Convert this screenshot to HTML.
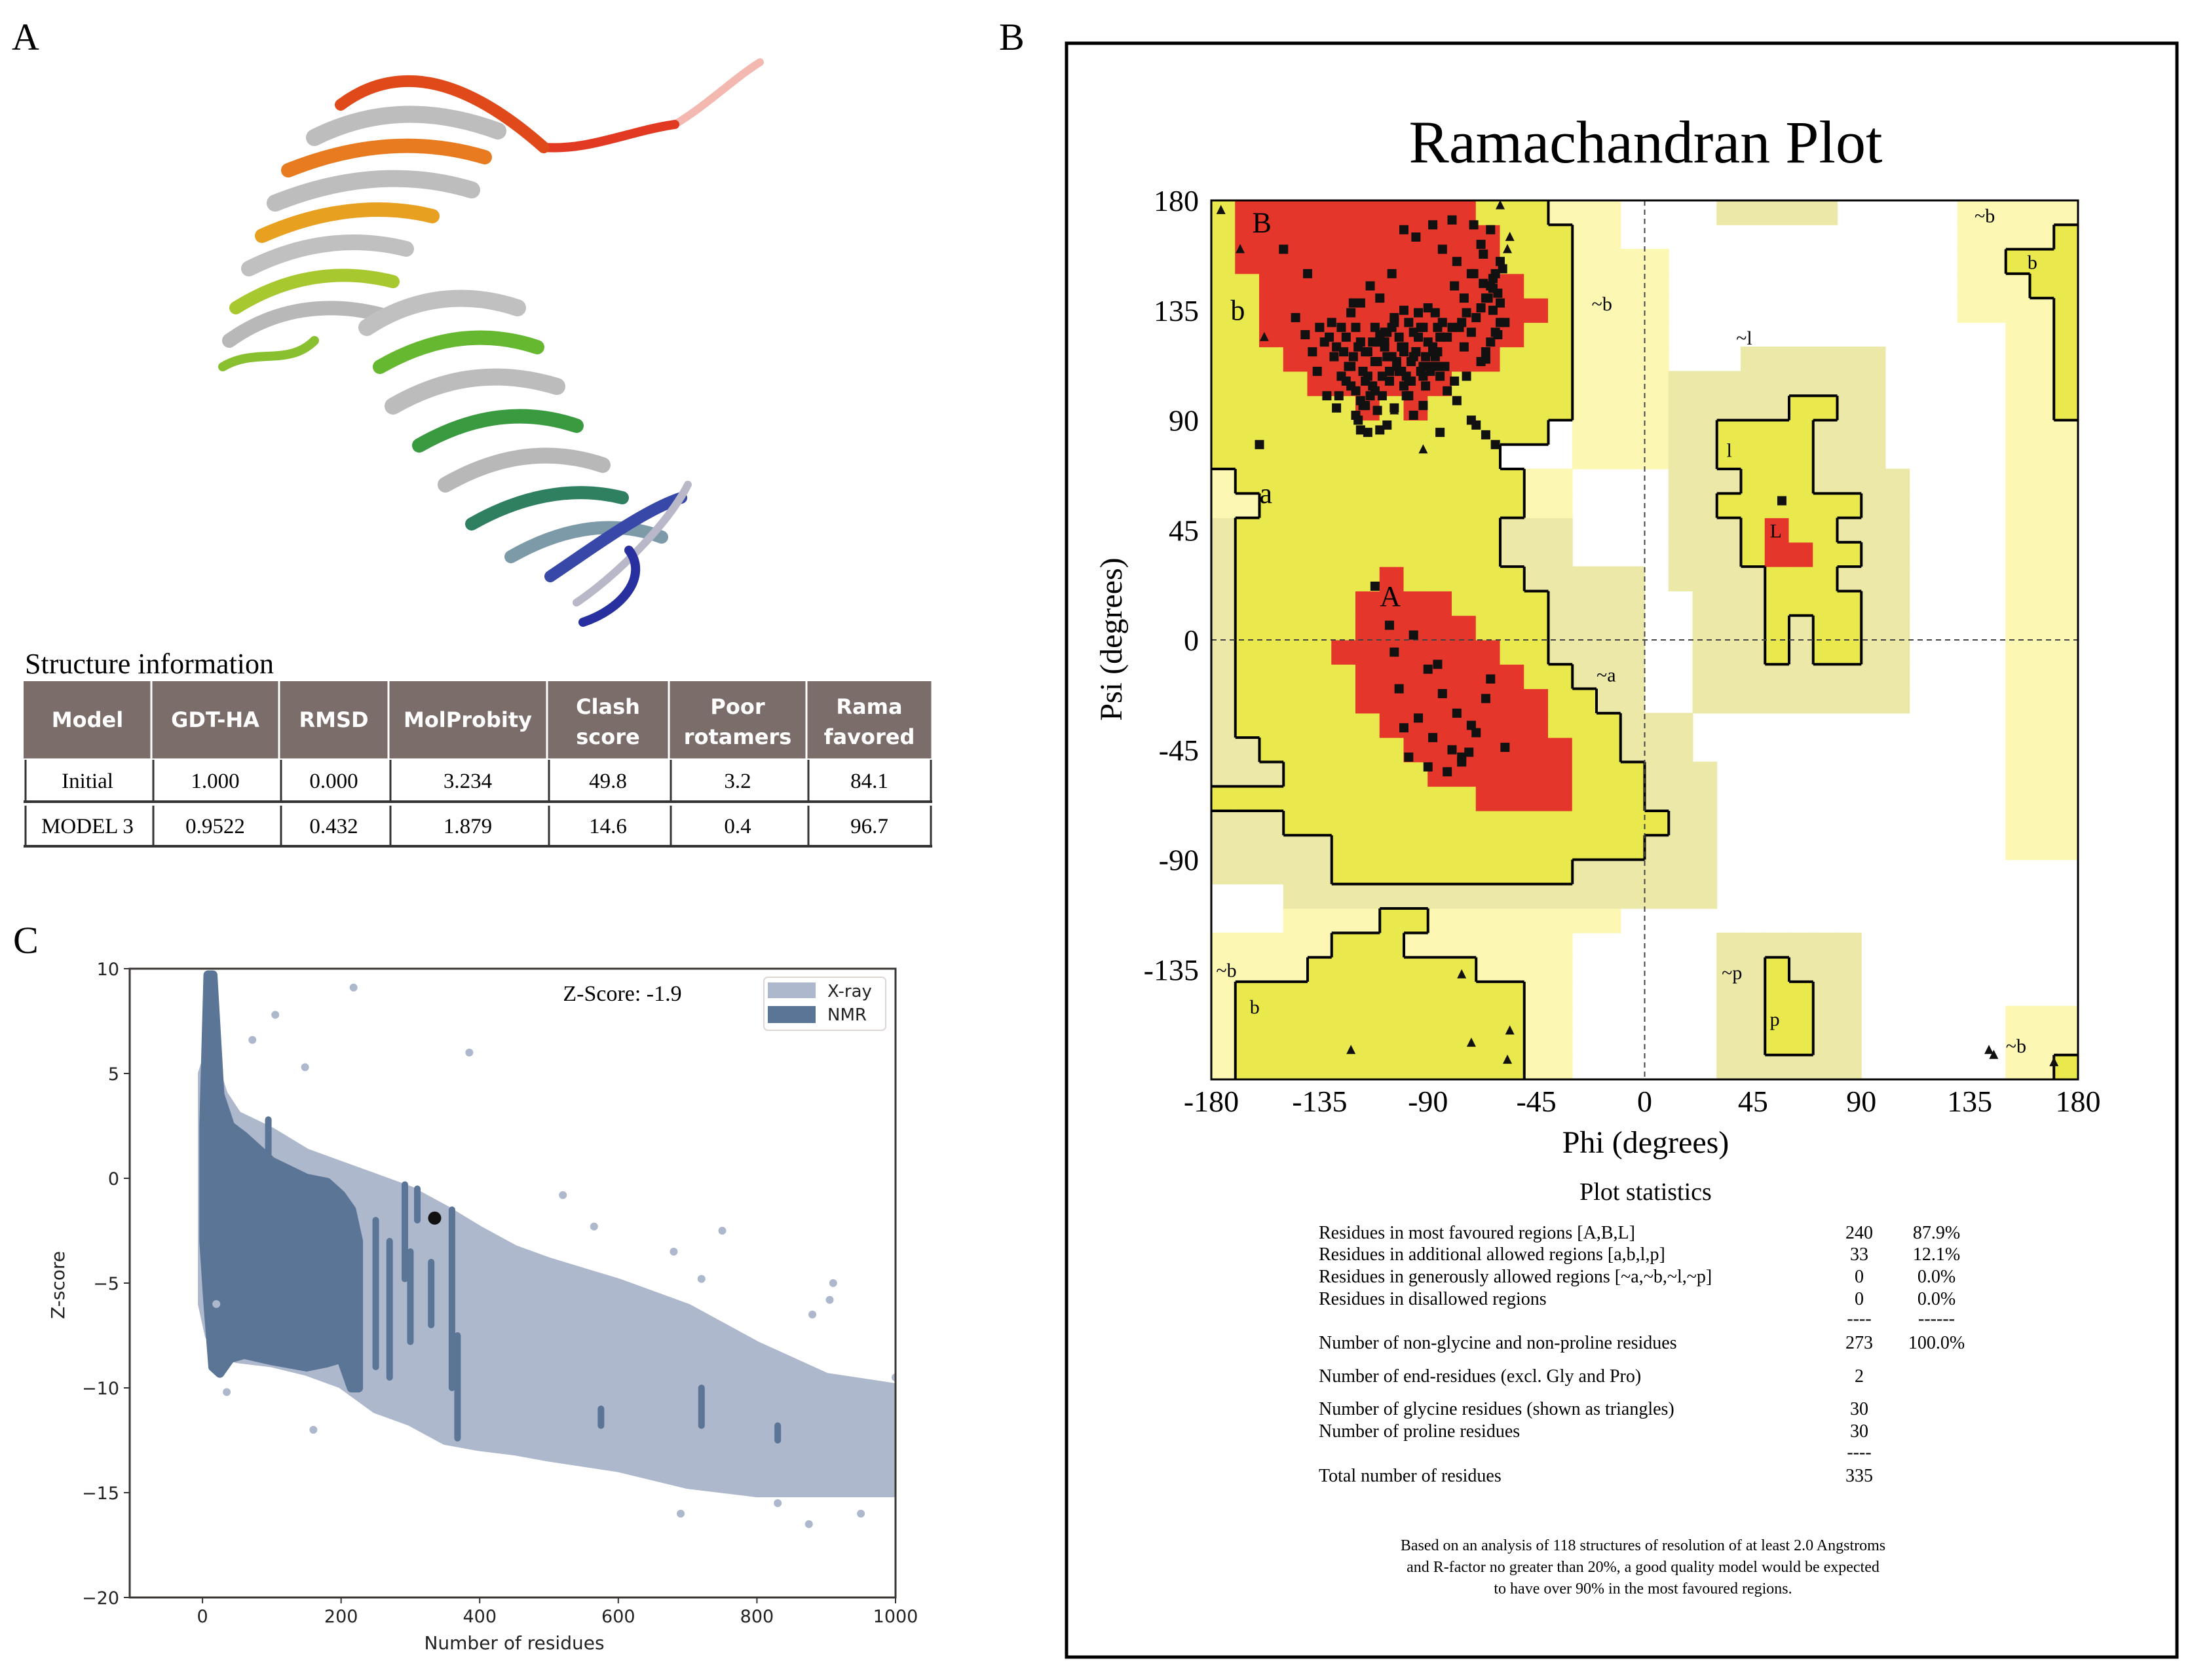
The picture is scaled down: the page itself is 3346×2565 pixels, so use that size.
<!DOCTYPE html>
<html><head><meta charset="utf-8"><style>
html,body{margin:0;padding:0;background:#fff}
svg{display:block}
.serif{font-family:"Liberation Serif",serif}
.sans{font-family:"DejaVu Sans","Liberation Sans",sans-serif}
</style></head><body>
<svg id="fig" width="3346" height="2565" viewBox="0 0 3346 2565" xmlns="http://www.w3.org/2000/svg">
<rect width="3346" height="2565" fill="#fff"/>
<text x="18" y="76" class="serif" font-size="58">A</text>
<text x="1525" y="76" class="serif" font-size="58">B</text>
<text x="20" y="1455" class="serif" font-size="58">C</text>

<g id="protein" fill="none" stroke-linecap="round" stroke-linejoin="round">
<path d="M1030 190 C1080 160,1120 120,1160 95" stroke="#f3b8b0" stroke-width="12"/>
<path d="M830 225 C900 230,960 200,1030 190" stroke="#e23a22" stroke-width="14"/>
<path d="M520 160 C600 100,700 110,830 225" stroke="#e04a1a" stroke-width="18"/>
<path d="M480 210 C560 170,650 160,760 200" stroke="#bdbdbd" stroke-width="26"/>
<path d="M440 260 C540 220,640 210,740 240" stroke="#e87a20" stroke-width="22"/>
<path d="M420 310 C520 270,620 260,720 290" stroke="#bdbdbd" stroke-width="26"/>
<path d="M400 360 C490 320,580 310,660 330" stroke="#e8a020" stroke-width="22"/>
<path d="M380 410 C460 370,540 360,620 380" stroke="#c0c0c0" stroke-width="24"/>
<path d="M360 470 C440 420,520 410,600 430" stroke="#a8c830" stroke-width="20"/>
<path d="M350 520 C420 470,500 460,580 480" stroke="#b8b8b8" stroke-width="22"/>
<path d="M340 560 C390 530,440 560,480 520" stroke="#88c030" stroke-width="14"/>
<path d="M560 500 C620 460,700 440,790 470" stroke="#c0c0c0" stroke-width="26"/>
<path d="M580 560 C650 520,730 500,820 530" stroke="#66b830" stroke-width="22"/>
<path d="M600 620 C670 580,750 560,850 590" stroke="#bcbcbc" stroke-width="26"/>
<path d="M640 680 C710 640,790 620,880 650" stroke="#3a9a40" stroke-width="22"/>
<path d="M680 740 C750 700,830 680,920 710" stroke="#b8b8b8" stroke-width="24"/>
<path d="M720 800 C790 760,870 740,950 760" stroke="#2f8060" stroke-width="20"/>
<path d="M780 850 C850 810,930 790,1010 820" stroke="#7d9aa8" stroke-width="20"/>
<path d="M840 880 C900 840,980 780,1040 760" stroke="#3848a8" stroke-width="18"/>
<path d="M880 920 C940 880,1020 800,1050 740" stroke="#b8b8c8" stroke-width="12"/>
<path d="M890 950 C950 930,990 880,960 840" stroke="#2830a0" stroke-width="14"/>
</g>

<g id="table"></g>
<g id="rama"></g>
<g id="zplot"></g>
</svg>
<script>
const NS='http://www.w3.org/2000/svg';
function mk(tag,attrs,parent,txt){const e=document.createElementNS(NS,tag);for(const k in attrs)e.setAttribute(k,attrs[k]);if(txt!==undefined)e.textContent=txt;parent.appendChild(e);return e;}

/* ---------- Table ---------- */
const tableHeaders=[["Model"],["GDT-HA"],["RMSD"],["MolProbity"],["Clash","score"],["Poor","rotamers"],["Rama","favored"]];
const tableRowInitial=["Initial","1.000","0.000","3.234","49.8","3.2","84.1"];
const tableRowModel3=["MODEL 3","0.9522","0.432","1.879","14.6","0.4","96.7"];
(function(){
const g=document.getElementById('table');
const cols=[36,231,426,593,835,1021,1231,1423];
const t=mk('text',{x:38,y:1028,'class':'serif','font-size':44},g,'Structure information');

const hdr=mk('rect',{x:36,y:1040,width:1387,height:118,fill:'#7b6e6a'},g);

for(let i=0;i<7;i++){
 const cx=(cols[i]+cols[i+1])/2;
 mk('line',{x1:cols[i+1],y1:1040,x2:cols[i+1],y2:1158,stroke:'#fff','stroke-width':3},g);
 const h=tableHeaders[i];
 h.forEach((s,j)=>{const y=h.length===1?1110:1090+j*46;
  const tx=mk('text',{x:cx,y:y,'text-anchor':'middle','class':'sans','font-size':32,'font-weight':'bold',fill:'#fff'},g,s);
  });
}
[[tableRowInitial,1160,1224],[tableRowModel3,1230,1292]].forEach(([row,y0,y1])=>{
 for(let i=0;i<7;i++){
  mk('line',{x1:cols[i]+3,y1:y0,x2:cols[i]+3,y2:y1,stroke:'#333','stroke-width':3},g);
  const tx=mk('text',{x:(cols[i]+cols[i+1])/2,y:(y0+y1)/2+11,'text-anchor':'middle','class':'serif','font-size':33},g,row[i]);
  
 }
 mk('line',{x1:cols[7]-2,y1:y0,x2:cols[7]-2,y2:y1,stroke:'#333','stroke-width':3},g);
 mk('line',{x1:36,y1:y1,x2:1423,y2:y1,stroke:'#333','stroke-width':4},g);
});
})();

/* ---------- Ramachandran ---------- */
const paleRegions=[[1,-180,-30,-180,-120],[1,-150,-10,-120,-110],[1,-30,10,70,160],[1,-40,-10,160,180],[1,-60,-30,50,70],[1,-180,-160,50,70],[1,130,180,130,180],[1,150,180,-90,130],[1,150,180,-180,-150]];
const generousRegions=[[2,-180,-30,-110,50],[2,-30,0,-110,30],[2,0,20,-110,-30],[2,20,30,-110,-50],[0,-180,-150,-110,-100],[2,10,110,-30,110],[2,40,100,110,120],[0,10,20,-30,20],[0,100,110,70,120],[2,30,90,-180,-120],[2,30,80,170,180]];
const allowedRegions=[[3,-180,-40,170,180],[3,-180,-30,90,170],[3,-180,-40,80,90],[3,-180,-60,70,80],[3,-170,-50,60,70],[3,-160,-50,50,60],[3,-170,-60,30,50],[3,-170,-50,20,30],[3,-170,-40,-10,20],[3,-170,-30,-20,-10],[3,-170,-20,-30,-20],[3,-170,-10,-40,-30],[3,-160,-10,-50,-40],[3,-150,0,-60,-50],[3,-180,0,-70,-60],[3,-150,10,-80,-70],[3,-130,0,-90,-80],[3,-130,-30,-100,-90],
[3,60,80,90,100],[3,30,70,70,90],[3,40,70,60,70],[3,30,90,50,60],[3,40,80,40,50],[3,40,90,30,40],[3,50,80,20,30],[3,50,90,10,20],[3,50,60,-10,10],[3,70,90,-10,10],
[3,50,70,-170,-140],[3,50,60,-140,-130],[3,170,180,90,170],[3,160,180,140,160],[3,150,160,150,160],[3,170,180,-180,-170],
[3,-170,-50,-180,-140],[3,-140,-70,-140,-130],[3,-130,-100,-130,-120],[3,-110,-90,-120,-110]];
const coreRegions=[[4,-170,-70,170,180],[4,-170,-60,150,170],[4,-160,-50,140,150],[4,-160,-40,130,140],[4,-160,-50,120,130],[4,-150,-60,110,120],[4,-140,-80,100,110],[4,-120,-110,90,100],[4,-100,-90,90,100],
[4,-110,-100,20,30],[4,-120,-80,10,20],[4,-120,-70,0,10],[4,-130,-60,-10,0],[4,-120,-50,-20,-10],[4,-120,-40,-30,-20],[4,-110,-40,-40,-30],[4,-100,-30,-50,-40],[4,-90,-30,-60,-50],[4,-70,-30,-70,-60],
[4,50,60,30,50],[4,60,70,30,40]];
const phiTicks=[-180,-135,-90,-45,0,45,90,135,180];
const psiTicks=[180,135,90,45,0,-45,-90,-135];
const resPhi=[-125,-118,-110,-105,-100,-96,-92,-88,-85,-80,-76,-72,-70,-66,-64,-62,-60,-130,-128,-122,-115,-112,-108,-104,-101,-98,-95,-93,-90,-87,-83,-79,-75,-120,-117,-113,-109,-106,-103,-99,-97,-94,-91,-89,-86,-82,-78,-74,-68,-65,-63,-61,-59,-127,-124,-119,-116,-111,-107,-102,-100,-96,-92,-110,-105,-100,-114,-121,-126,-133,-138,-145,-141,-135,-131,-150,-140,-100,-95,-88,-84,-80,-78,-68,-64,-72,-75,-79,-120,-118,-110,-107,-128,-132,-136,-115,-104,-70,-66,-62,-63,-67,-71,-160,-116,-108,-98,-85,-72,-61,-58,-66,-92,-86,
-112,-106,-96,-90,-84,-78,-72,-102,-94,-88,-80,-76,-70,-66,-98,-90,-82,-76,-73,-86,-64,-58,-100,-104,
57,
-123,-121,-119,-117,-115,-113,-111,-109,-107,-105,-103,-101,-99,-97,-95,-93,-91,-89,-87,-85,-124,-120,-116,-112,-108,-104,-100,-96,-92,-88,-122,-118,-114,-110,-106,-102,-98,-94,-90,-86,-60,-62,-64,-66,-68,-60,-63,-67,-71,-74,-77,-82,-84,-126,-129,-122,-118,-112];
const resPsi=[118,122,125,128,120,116,112,118,124,128,130,126,132,140,145,150,155,130,120,112,108,114,126,132,110,106,118,128,122,134,112,106,120,102,96,104,100,110,114,100,106,124,116,110,118,102,98,108,136,140,148,142,152,100,106,90,96,94,116,124,104,92,96,140,150,135,145,138,128,122,118,132,125,128,124,160,150,168,165,170,160,172,155,162,168,150,140,145,92,86,86,88,95,100,110,85,95,88,84,80,135,158,170,80,118,122,100,85,90,125,130,115,108,112,
22,6,2,-12,-22,-30,-35,-20,-32,-40,-45,-48,-38,-24,-48,-52,-54,-50,-46,-10,-16,-44,-36,-5,
57,
112,116,120,110,118,122,114,108,126,116,112,120,108,114,118,110,104,112,116,108,124,128,106,102,120,130,118,126,128,120,104,98,100,122,106,110,130,134,136,128,130,126,122,118,114,138,144,146,150,134,128,124,130,108,116,134,138,128];
const glyPhi=[-176,-168,-158,-104,-92,-60,-56,-57,-76,-122,-57,-56,-72,143,145,170];
const glyPsi=[176,160,124,94,78,178,165,160,-137,-168,-172,-160,-165,-168,-170,-173];
const regionLabels=[["B",-163,167,44],["b",-172,131,44],["a",-160,56,44],["A",-110,14,44],["~b",-22,135,30],["~l",38,121,30],["l",34,75,30],["L",52,42,30],["~a",-20,-17,30],["~b",-178,-138,30],["b",-164,-153,30],["~p",32,-139,30],["p",52,-158,30],["~b",137,171,30],["b",159,152,30],["~b",150,-169,30]];
(function(){
const g=document.getElementById('rama');
const X0=1849,X1=3172,Y0=306,Y1=1648;
const px=p=>X0+(p+180)*(X1-X0)/360, py=s=>Y0+(180-s)*(Y1-Y0)/360;
const frame=mk('rect',{x:1628,y:66,width:1695,height:2464,fill:'none',stroke:'#000','stroke-width':5},g);

const tt=mk('text',{x:2512,y:248,'text-anchor':'middle','class':'serif','font-size':92},g,'Ramachandran Plot');

const grid=[];for(let r=0;r<36;r++){grid.push(new Array(36).fill(0));}
[paleRegions,generousRegions,allowedRegions,coreRegions].forEach(list=>list.forEach(([lv,a,b,c,d])=>{
 for(let p=a;p<b;p+=10)for(let s=c;s<d;s+=10){grid[(s+180)/10][(p+180)/10]=lv;}
}));
const cols=['#ffffff','#fcf8b4','#ece9a8','#e9e84c','#e4362a'];
const cw=(X1-X0)/36,ch=(Y1-Y0)/36;
for(let r=0;r<36;r++)for(let c=0;c<36;c++){const lv=grid[r][c];if(!lv)continue;
 const cell=mk('rect',{x:X0+c*cw-0.5,y:py(-180+(r+1)*10)-0.5,width:cw+1,height:ch+1,fill:cols[lv]},g);
 }
const al=(r,c)=>r>=0&&r<36&&c>=0&&c<36&&grid[r][c]>=3;
let d='';
for(let r=0;r<36;r++)for(let c=0;c<36;c++){
 if(c<35 && al(r,c)!==al(r,c+1)){const x=X0+(c+1)*cw;d+=`M${x} ${py(-180+(r+1)*10)}V${py(-180+r*10)}`;}
 if(r<35 && al(r,c)!==al(r+1,c)){const y=py(-180+(r+1)*10);d+=`M${X0+c*cw} ${y}H${X0+(c+1)*cw}`;}
}
const bl=mk('path',{d:d,stroke:'#000','stroke-width':4,fill:'none'},g);

mk('line',{x1:px(0),y1:Y0,x2:px(0),y2:Y1,stroke:'#444','stroke-width':2,'stroke-dasharray':'8,6'},g);
mk('line',{x1:X0,y1:py(0),x2:X1,y2:py(0),stroke:'#444','stroke-width':2,'stroke-dasharray':'8,6'},g);
regionLabels.forEach(([s,p,q,f])=>{const t=mk('text',{x:px(p),y:py(q),'class':'serif','font-size':f},g,s);
 });
const ax=mk('rect',{x:X0,y:Y0,width:X1-X0,height:Y1-Y0,fill:'none',stroke:'#000','stroke-width':3},g);

for(let i=0;i<resPhi.length;i++){const m=mk('rect',{x:px(resPhi[i])-7,y:py(resPsi[i])-7,width:14,height:14,fill:'#111'},g);
 }
for(let i=0;i<glyPhi.length;i++){const x=px(glyPhi[i]),y=py(glyPsi[i]);
 const m=mk('path',{d:`M${x} ${y-8}L${x+7} ${y+6}L${x-7} ${y+6}Z`,fill:'#111'},g);
 }
phiTicks.forEach(v=>{const t=mk('text',{x:px(v),y:1697,'text-anchor':'middle','class':'serif','font-size':46},g,String(v));
 });
psiTicks.forEach(v=>{const t=mk('text',{x:1830,y:py(v)+16,'text-anchor':'end','class':'serif','font-size':46},g,String(v));
 });
const xl=mk('text',{x:2512,y:1760,'text-anchor':'middle','class':'serif','font-size':48},g,'Phi (degrees)');

const yl=mk('text',{x:0,y:0,'text-anchor':'middle','class':'serif','font-size':48,transform:'translate(1712,976) rotate(-90)'},g,'Psi (degrees)');

const ps=mk('text',{x:2512,y:1832,'text-anchor':'middle','class':'serif','font-size':38},g,'Plot statistics');

const stats=[["Residues in most favoured regions  [A,B,L]","240","87.9%",1891],["Residues in additional allowed regions  [a,b,l,p]","33","12.1%",1924],["Residues in generously allowed regions  [~a,~b,~l,~p]","0","0.0%",1958],["Residues in disallowed regions","0","0.0%",1992],["","----","------",2022],["Number of non-glycine and non-proline residues","273","100.0%",2059],["Number of end-residues (excl. Gly and Pro)","2","",2110],["Number of glycine residues (shown as triangles)","30","",2160],["Number of proline residues","30","",2194],["","----","",2226],["Total number of residues","335","",2262]];
stats.forEach(([a,b,c,y])=>{
 const t=mk('text',{x:2013,y:y,'class':'serif','font-size':28},g,a);
 const n=mk('text',{x:2838,y:y,'text-anchor':'middle','class':'serif','font-size':28},g,b);
 const q=mk('text',{x:2956,y:y,'text-anchor':'middle','class':'serif','font-size':28},g,c);
});
["Based on an analysis of 118 structures of resolution of at least 2.0 Angstroms","and R-factor no greater than 20%, a good quality model would be expected","to have over 90% in the most favoured regions."].forEach((s,i)=>{
 const t=mk('text',{x:2508,y:2367+i*33,'text-anchor':'middle','class':'serif','font-size':24},g,s);
 });
})();

/* ---------- Z-score plot ---------- */
const xrayN=[0,10,30,50,100,150,200,250,300,350,400,450,500,600,700,800,900,1000];
const xrayUpper=[5,6,4,3,2.2,1.2,0.6,0,-0.6,-1.5,-2.5,-3.4,-4,-5,-6.2,-8,-9.5,-10];
const xrayLower=[-6,-7.5,-8.2,-8.6,-8.8,-9.2,-9.8,-11,-11.6,-12.5,-12.8,-13,-13.3,-13.8,-14.6,-15,-15,-15];
const nmrN=[2,8,15,25,40,60,100,150,180,200,215,225];
const nmrUpper=[2.5,9.7,9.7,4,2.5,2,0.8,0,-0.2,-0.8,-1.5,-3];
const nmrLower=[-3,-6,-9,-9.3,-8.6,-8.4,-8.7,-9,-8.8,-8.6,-10,-10];
const streakN=[95,250,270,292,300,310,330,360,368,575,720,830];
const streakTop=[2.8,-2,-3,-0.3,-3.5,-0.5,-4,-1.5,-7.5,-11,-10,-11.8];
const streakBot=[1,-9,-9.5,-4.8,-7.8,-2,-7,-10,-12.4,-11.8,-11.8,-12.5];
const outN=[218,105,72,148,385,35,160,520,565,750,680,720,880,910,905,690,875,830,950,985,970,1000,20];
const outZ=[9.1,7.8,6.6,5.3,6,-10.2,-12,-0.8,-2.3,-2.5,-3.5,-4.8,-6.5,-5,-5.8,-16,-16.5,-15.5,-16,-14.5,-13.7,-9.5,-6];
const modelN=[335], modelZ=[-1.9];
const zXTicks=[0,200,400,600,800,1000];
const zYTicks=[10,5,0,-5,-10,-15,-20];
(function(){
const g=document.getElementById('zplot');
const L=198,R=1367,T=1479,B=2439;
const sx=n=>L+(n+105)*(R-L)/1105, sy=z=>T+(10-z)*(B-T)/30;
const cp=mk('clipPath',{id:'zc'},g);mk('rect',{x:L,y:T,width:R-L,height:B-T},cp);
const pg=mk('g',{'clip-path':'url(#zc)'},g);
function band(N,U,Lo,fill,name){let d='M'+sx(N[0])+' '+sy(U[0]);
 for(let i=1;i<N.length;i++)d+='L'+sx(N[i])+' '+sy(U[i]);
 for(let i=N.length-1;i>=0;i--)d+='L'+sx(N[i])+' '+sy(Lo[i]);
 const p=mk('path',{d:d+'Z',fill:fill,stroke:fill,'stroke-width':14,'stroke-linejoin':'round'},pg);
 }
band(xrayN,xrayUpper,xrayLower,'#adb8cd','xray-cloud');
band(nmrN,nmrUpper,nmrLower,'#5a7596','nmr-cloud');
for(let i=0;i<streakN.length;i++){const s=mk('line',{x1:sx(streakN[i]),y1:sy(streakTop[i]),x2:sx(streakN[i]),y2:sy(streakBot[i]),stroke:'#5a7596','stroke-width':10,'stroke-linecap':'round'},pg);
 }
for(let i=0;i<outN.length;i++){const c=mk('circle',{cx:sx(outN[i]),cy:sy(outZ[i]),r:6,fill:'#adb8cd'},pg);
 }
const m=mk('circle',{cx:sx(modelN[0]),cy:sy(modelZ[0]),r:10,fill:'#111'},pg);

const ax=mk('rect',{x:L,y:T,width:R-L,height:B-T,fill:'none',stroke:'#3a3532','stroke-width':3},g);

zXTicks.forEach(v=>{mk('line',{x1:sx(v),y1:B,x2:sx(v),y2:B+9,stroke:'#333','stroke-width':2},g);
 const t=mk('text',{x:sx(v),y:B+38,'text-anchor':'middle','class':'sans','font-size':27,fill:'#222'},g,String(v));
 });
zYTicks.forEach(v=>{mk('line',{x1:L-9,y1:sy(v),x2:L,y2:sy(v),stroke:'#333','stroke-width':2},g);
 const t=mk('text',{x:L-16,y:sy(v)+10,'text-anchor':'end','class':'sans','font-size':27,fill:'#222'},g,v<0?'\u2212'+(-v):String(v));
 });
const xl=mk('text',{x:785,y:2518,'text-anchor':'middle','class':'sans','font-size':28,fill:'#222'},g,'Number of residues');

const yl=mk('text',{x:0,y:0,'text-anchor':'middle','class':'sans','font-size':28,fill:'#222',transform:'translate(98,1962) rotate(-90)'},g,'Z-score');

const zs=mk('text',{x:950,y:1528,'text-anchor':'middle','class':'serif','font-size':34},g,'Z-Score: -1.9');

const lg=mk('rect',{x:1166,y:1492,width:186,height:81,rx:6,fill:'#fff',stroke:'#ddd6d2','stroke-width':2},g);

mk('rect',{x:1172,y:1500,width:73,height:24,fill:'#adb8cd'},g);
mk('rect',{x:1172,y:1536,width:73,height:26,fill:'#5a7596'},g);
const l1=mk('text',{x:1263,y:1522,'class':'sans','font-size':26,fill:'#222'},g,'X-ray');

const l2=mk('text',{x:1263,y:1558,'class':'sans','font-size':26,fill:'#222'},g,'NMR');

})();
</script>
</body></html>
